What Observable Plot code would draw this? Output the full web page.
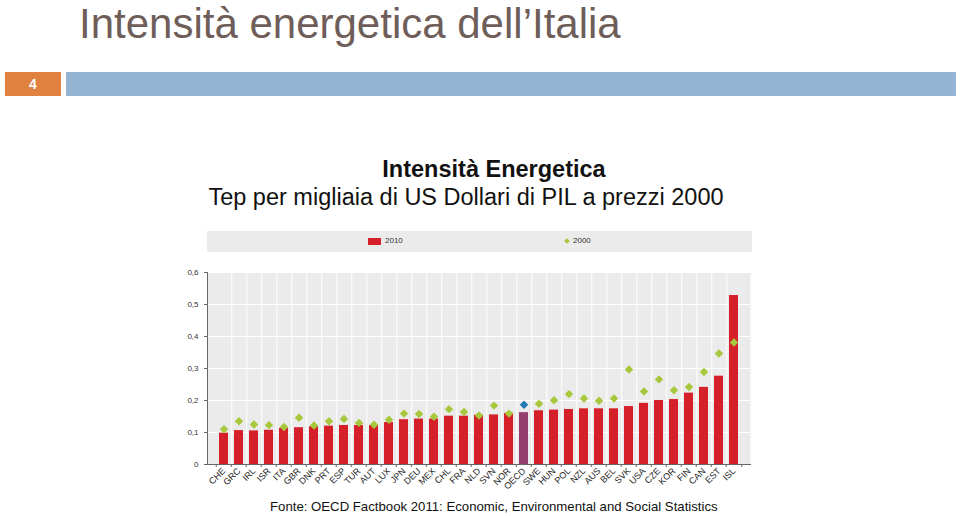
<!DOCTYPE html>
<html><head><meta charset="utf-8">
<script src="https://cdn.jsdelivr.net/npm/d3@7"></script>
<script src="https://cdn.jsdelivr.net/npm/@observablehq/plot@0.6"></script>
<style>
body{margin:0;width:960px;height:516px;background:#fff;font-family:"Liberation Sans",Arial,sans-serif;position:relative;overflow:hidden}
.abs{position:absolute;white-space:nowrap}
#title{left:79px;top:0px;font-size:42px;line-height:47px;color:#6e5d58}
#num{left:5px;top:72px;width:56px;height:24px;background:#e0813f;color:#fff;font-size:14px;font-weight:bold;line-height:24px;text-indent:24px}
#bar{left:66px;top:72px;width:890px;height:24px;background:#95b3d3}
#ct{left:0;width:988px;top:156px;text-align:center;font-size:23.5px;font-weight:bold;color:#111}
#cs{left:0;width:932px;top:184px;text-align:center;font-size:23.5px;color:#111}
#leg{left:207px;top:231px;width:545px;height:21px;background:#ebebeb;font-size:8px;color:#333}
#src{left:270px;top:499px;font-size:13.2px;color:#111}
#chart{left:0;top:256px}
</style></head><body>
<div class="abs" id="title">Intensità energetica dell’Italia</div>
<div class="abs" id="num">4</div>
<div class="abs" id="bar"></div>
<div class="abs" id="ct">Intensità Energetica</div>
<div class="abs" id="cs">Tep per migliaia di US Dollari di PIL a prezzi 2000</div>
<div class="abs" id="leg">
  <div class="abs" style="left:161px;top:7px;width:13px;height:7px;background:#d5202a"></div>
  <div class="abs" style="left:178px;top:5px">2010</div>
  <div class="abs" style="left:358px;top:8px;width:4px;height:4px;background:#a7c83c;transform:rotate(45deg)"></div>
  <div class="abs" style="left:366px;top:5px">2000</div>
</div>
<div class="abs" id="chart"></div>
<div class="abs" id="src">Fonte: OECD Factbook 2011: Economic, Environmental and Social Statistics</div>
<script>
const countries = ["CHE","GRC","IRL","ISR","ITA","GBR","DNK","PRT","ESP","TUR","AUT","LUX","JPN","DEU","MEX","CHL","FRA","NLD","SVN","NOR","OECD","SWE","HUN","POL","NZL","AUS","BEL","SVK","USA","CZE","KOR","FIN","CAN","EST","ISL"];
const v2010 = [0.098,0.106,0.105,0.107,0.113,0.115,0.118,0.120,0.122,0.122,0.122,0.131,0.140,0.142,0.142,0.151,0.151,0.154,0.155,0.160,0.162,0.168,0.170,0.172,0.174,0.174,0.174,0.181,0.191,0.200,0.203,0.223,0.241,0.276,0.528];
const v2000 = [0.110,0.135,0.125,0.123,0.117,0.146,0.122,0.135,0.142,0.130,0.124,0.140,0.159,0.158,0.149,0.173,0.164,0.153,0.184,0.159,0.187,0.190,0.201,0.220,0.206,0.199,0.206,0.297,0.228,0.266,0.232,0.242,0.289,0.347,0.381];
const yTicks = [0,0.1,0.2,0.3,0.4,0.5,0.6];

const data = countries.map((c,i)=>({c, v10:v2010[i], v00:v2000[i], oecd:c==="OECD"}));
const W = 960, mL = 207, mR = 210;
const step = (W - mL - mR) / countries.length;
const fmt = d => d === 0 ? "0" : String(d).replace(".", ",");

const chart = Plot.plot({
  width: W, height: 240,
  marginLeft: mL, marginRight: mR, marginTop: 16, marginBottom: 32,
  style: {fontFamily: "Liberation Sans, Arial, sans-serif", fontSize: "8px", color: "#333", background: "transparent"},
  x: {domain: countries, padding: 0.37, label: null},
  y: {domain: [0, 0.6], label: null},
  marks: [
    Plot.frame({fill: "#ebebeb", stroke: null}),
    Plot.ruleY(yTicks, {stroke: "white", strokeWidth: 1}),
    Plot.ruleX(countries.slice(0, -1), {x: d => d, dx: step / 2, stroke: "white", strokeWidth: 1}),
    Plot.barY(data, {x: "c", y: "v10", fill: d => d.oecd ? "#963d6f" : "#d5202a"}),
    Plot.dot(data, {x: "c", y: "v00", symbol: "diamond2", r: 3.8, fill: d => d.oecd ? "#2278b5" : "#a7c83c", stroke: null}),
    Plot.frame({anchor: "left", stroke: "#666"}),
    Plot.frame({anchor: "bottom", stroke: "#666"}),
    Plot.ruleX(countries, {x: d => d, dx: -step / 2, y1: 0, y2: 0, insetBottom: -3, stroke: "#666"}),
    Plot.ruleX(countries.slice(-1), {x: d => d, dx: step / 2, y1: 0, y2: 0, insetBottom: -3, stroke: "#666"}),
    Plot.axisY({ticks: yTicks, tickFormat: fmt, tickSize: 3, tickPadding: 6, stroke: "#666"}),
    Plot.axisX({tickRotate: -45, tickSize: 0, tickPadding: 5, fontSize: 9, fill: "#222"})
  ]
});
document.getElementById("chart").appendChild(chart);
</script>
</body></html>
